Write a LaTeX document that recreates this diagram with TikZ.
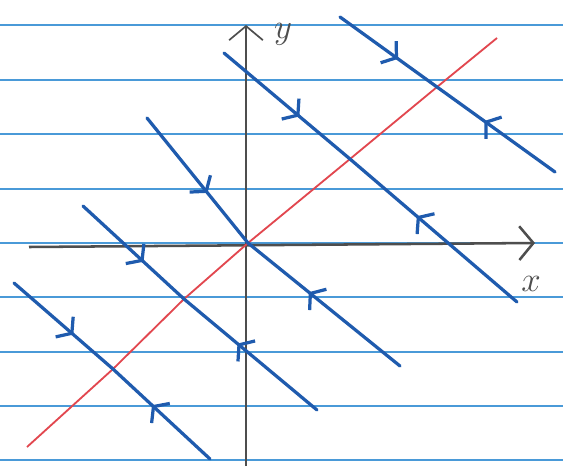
\documentclass[tikz,border=0pt]{standalone}
\usepackage{tikz}
\usetikzlibrary{arrows.meta, decorations.markings}
\definecolor{rulecol}{HTML}{4A9AD8}
\definecolor{inkblue}{HTML}{1F5BAE}
\definecolor{inkred}{HTML}{E2474F}
\definecolor{pencil}{HTML}{4E4E4E}

\begin{document}
\begin{tikzpicture}[x=0.025cm, y=-0.025cm,
  rule/.style={rulecol, line width=1.6pt},
  axis/.style={pencil, line width=1.8pt, -{Straight Barb[length=10pt, width=24pt]}},
  stable/.style={inkred, line width=1.3pt},
  orbit/.style={inkblue, line width=2.3pt, line cap=round,
                postaction={decorate},
                decoration={markings, mark=at position 0.6 with
                  {\arrow{Straight Barb[length=7pt, width=19pt]}}}},
  lbl/.style={font=\Huge, text=pencil}
]
%% Paper
\fill[white] (0,0) rectangle (563,466);
\useasboundingbox (0,0) rectangle (563,466);
\foreach \y in {25,80,134,189,243,297,352,406,460}{
  \draw[rule] (0,\y) -- (563,\y);}
%% Axes
\coordinate (xl) at (29,247);
\coordinate (xr) at (535,243);
\coordinate (yb) at (246,466);
\coordinate (yt) at (246,25);
\draw[axis] (xl) -- (xr);
\draw[axis, line width=1.2pt] (yb) -- (yt);
\node[lbl] (xlab) at (531,284) {$x$};
\node[lbl] (ylab) at (283,34) {$y$};
%% Trajectories: start, crossing with red line, end
\foreach \i/\sx/\sy/\cx/\cy/\ex/\ey in {
    1/340/17/437/87/555/172,
    2/224/53/350/159/517/302,
    3/147/118/248/243/400/366,
    4/83/206/184/299/317/410,
    5/14/283/113/369/210/459}{
  \coordinate (s\i) at (\sx,\sy);
  \coordinate (c\i) at (\cx,\cy);
  \coordinate (e\i) at (\ex,\ey);}
%% Red line
\coordinate (r0) at (27,447);
\coordinate (r1) at (497,38);
\draw[stable] (r0) -- (c5) -- (c4) -- (c3) -- (c2) -- (c1) -- (r1);
%% Blue lines, arrows toward the red line
\foreach \i in {1,...,5}{
  \draw[orbit] (s\i) -- (c\i);
  \draw[orbit] (e\i) -- (c\i);}
\end{tikzpicture}
\end{document}
